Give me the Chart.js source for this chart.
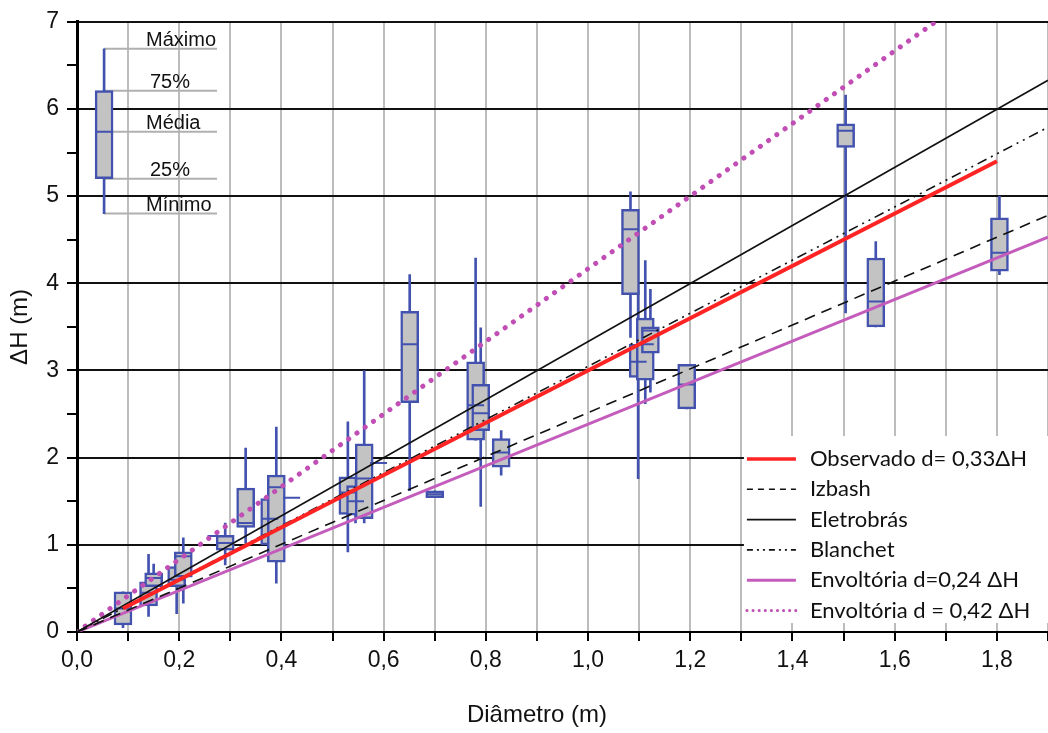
<!DOCTYPE html>
<html>
<head>
<meta charset="utf-8">
<title>ΔH x Diâmetro</title>
<script src="https://cdn.jsdelivr.net/npm/chart.js@4.4.1/dist/chart.umd.min.js"></script>
<style>
  html, body { margin: 0; padding: 0; background: #fff; overflow: hidden; }
  canvas { display: block; }
</style>
</head>
<body>
<canvas id="chart" width="1048" height="733"></canvas>
<script>
// boxes: diameter (m) and ΔH statistics (m)
const boxX   = [0.09, 0.14, 0.15, 0.195, 0.208, 0.29, 0.33, 0.377, 0.39, 0.53, 0.545, 0.562, 0.651, 0.70, 0.78, 0.79, 0.83, 1.083, 1.098, 1.112, 1.122, 1.193, 1.504, 1.563, 1.805];
const boxMin = [0.05, 0.18, 0.45, 0.21, 0.33, 0.77, 1.02, 0.95, 0.56, 0.92, 1.25, 1.25, 1.62, 1.54, 2.20, 1.44, 1.80, 3.38, 1.76, 2.62, 2.75, 2.56, 3.66, 3.50, 4.10];
const boxQ1  = [0.08, 0.30, 0.52, 0.52, 0.63, 0.94, 1.20, 1.00, 0.80, 1.35, 1.34, 1.30, 2.63, 1.54, 2.20, 2.31, 1.89, 3.87, 2.92, 2.89, 3.20, 2.56, 5.56, 3.50, 4.14];
const boxMed = [0.27, 0.45, 0.62, 0.60, 0.87, 1.02, 1.25, 1.30, 1.66, 1.60, 1.50, 1.76, 3.30, 1.58, 2.60, 2.51, 2.06, 4.62, 3.10, 3.30, 3.46, 2.84, 5.75, 3.79, 4.35];
const boxQ3  = [0.46, 0.575, 0.68, 0.75, 0.92, 1.11, 1.65, 1.53, 1.80, 1.78, 1.68, 2.16, 3.68, 1.62, 3.10, 2.84, 2.22, 4.85, 3.30, 3.60, 3.50, 3.07, 5.83, 4.29, 4.75];
const boxMax = [0.46, 0.89, 0.78, 0.75, 1.08, 1.25, 2.11, 1.53, 2.35, 2.41, 1.68, 3.00, 4.10, 1.62, 4.29, 3.49, 2.31, 5.05, 3.92, 4.26, 3.93, 3.07, 6.16, 4.48, 5.00];

// single-value groups (flat boxes)
const flatX = [0.272, 0.42, 0.59];
const flatY = [1.10, 1.54, 1.94];

// key box in the upper left corner
const keyX = 0.053;
const keyVals = [6.69, 6.21, 5.74, 5.20, 4.80];   // max, q3, mean, q1, min
const keyLabels = ['Máximo', '75%', 'Média', '25%', 'Mínimo'];

// reference lines (start / end points)
const obsX = [0.09, 1.8],  obsY = [0.27, 5.40];
const izbX = [0, 1.9],     izbY = [0, 4.78];
const eleX = [0, 1.9],     eleY = [0, 6.33];
const blaX = [0, 1.9],     blaY = [0, 5.79];
const env24X = [0, 1.9],   env24Y = [0, 4.53];
const env42X = [0, 1.68],  env42Y = [0, 7.0];

const lineLabels = ['Observado d= 0,33\u0394H', 'Izbash', 'Eletrobrás', 'Blanchet',
                    'Envoltória d=0,24 \u0394H', 'Envoltória d = 0,42 \u0394H'];

const BLUE = '#4252ae';
const AXIS_FONT = '"Liberation Sans", Arial, sans-serif';

const pts = (xs, ys) => xs.map((x, i) => ({ x, y: ys[i] }));

const lineSet = (label, xs, ys, color, width, dash, cap) => ({
    type: 'line',
    label,
    data: pts(xs, ys),
    borderColor: color,
    borderWidth: width,
    borderDash: dash || [],
    borderCapStyle: cap || 'butt',
    pointRadius: 0,
    fill: false,
    tension: 0,
    order: 0
});

const allX = [keyX, ...boxX];
const allMin = [keyVals[4], ...boxMin];
const allQ1 = [keyVals[3], ...boxQ1];
const allMed = [keyVals[2], ...boxMed];
const allQ3 = [keyVals[1], ...boxQ3];
const allMax = [keyVals[0], ...boxMax];

const datasets = [
    lineSet(lineLabels[0], obsX, obsY, '#ff2424', 4),
    lineSet(lineLabels[1], izbX, izbY, '#111', 1.6, [11, 7]),
    lineSet(lineLabels[2], eleX, eleY, '#111', 1.6),
    lineSet(lineLabels[3], blaX, blaY, '#111', 1.6, [10, 5, 2, 5, 2, 5]),
    lineSet(lineLabels[4], env24X, env24Y, '#c45cbc', 3),
    lineSet(lineLabels[5], env42X, env42Y, '#c04eb4', 5, [0.1, 10], 'round'),
    {
        type: 'line',
        label: 'median',
        data: [...pts(allX, allMed), ...pts(flatX, flatY)],
        showLine: false,
        pointStyle: 'line',
        pointRadius: 8.5,
        pointBorderWidth: 2,
        pointBorderColor: BLUE,
        borderColor: BLUE,
        order: 1
    },
    {
        type: 'bar',
        label: 'box',
        data: allX.map((x, i) => ({ x, y: [allQ1[i], allQ3[i]] })),
        backgroundColor: '#c3c3c3',
        borderColor: BLUE,
        borderWidth: 2.5,
        borderSkipped: false,
        barThickness: 18,
        grouped: false,
        order: 2
    },
    {
        type: 'bar',
        label: 'whisker',
        data: allX.map((x, i) => ({ x, y: [allMin[i], allMax[i]] })),
        backgroundColor: BLUE,
        borderWidth: 0,
        barThickness: 2,
        grouped: false,
        order: 3
    }
];

// key labels, legend and x title
const overlay = {
    id: 'overlay',
    beforeDatasetsDraw(chart) {
        const { ctx, scales: { x, y } } = chart;
        ctx.save();
        ctx.strokeStyle = '#b0b0b0';
        ctx.lineWidth = 2;
        ctx.fillStyle = '#111';
        ctx.font = '20px ' + AXIS_FONT;
        ctx.textBaseline = 'alphabetic';
        const x0 = x.getPixelForValue(keyX);
        const x1 = x.getPixelForValue(0.274);
        keyLabels.forEach((t, i) => {
            const py = y.getPixelForValue(keyVals[i]);
            ctx.beginPath();
            ctx.moveTo(x0, py);
            ctx.lineTo(x1, py);
            ctx.stroke();
            const tx = x.getPixelForValue(0.135) + (t.endsWith('%') ? 4 : 0);
            ctx.fillText(t, tx, py - 3);
        });
        ctx.restore();
    },
    afterDraw(chart) {
        const { ctx, chartArea, scales: { x } } = chart;
        ctx.save();
        // legend
        const lx = x.getPixelForValue(1.305);
        ctx.fillStyle = '#fff';
        ctx.fillRect(lx, 436, chartArea.right - lx, 187);
        ctx.font = '22px Lato, "Open Sans", sans-serif';
        ctx.textBaseline = 'middle';
        for (let i = 0; i < 6; i++) {
            const ds = chart.data.datasets[i];
            const ly = 459 + i * 30.3;
            ctx.strokeStyle = ds.borderColor;
            ctx.lineWidth = i === 5 ? 3 : Math.min(ds.borderWidth, 3.5);
            ctx.setLineDash(i === 1 ? [6, 5] : i === 3 ? [6, 4, 2, 4, 2, 4] : i === 5 ? [0.1, 6] : []);
            ctx.lineCap = ds.borderCapStyle;
            ctx.beginPath();
            ctx.moveTo(lx + 3, ly);
            ctx.lineTo(lx + 52, ly);
            ctx.stroke();
            ctx.setLineDash([]);
            ctx.fillStyle = '#111';
            ctx.fillText(ds.label, lx + 66, ly);
        }
        // x axis title, centred on the labelled range
        ctx.font = '24px ' + AXIS_FONT;
        ctx.textAlign = 'center';
        ctx.textBaseline = 'middle';
        const cx = (x.getPixelForValue(0) + x.getPixelForValue(1.8)) / 2;
        ctx.fillText('Diâmetro (m)', cx, 715);
        ctx.restore();
    }
};

new Chart(document.getElementById('chart'), {
    type: 'bar',
    data: { datasets },
    plugins: [overlay],
    options: {
        responsive: false,
        animation: false,
        layout: { autoPadding: false, padding: { top: 20, right: 0, left: 0, bottom: 0 } },
        plugins: { legend: { display: false }, tooltip: { enabled: false } },
        scales: {
            x: {
                type: 'linear',
                min: 0,
                max: 1.9,
                offset: false,
                afterFit: s => { s.height = 101; s.paddingRight = 0; },
                grid: { offset: false, color: '#bcbcbc', lineWidth: 2, tickColor: '#000', tickLength: 9 },
                border: { color: '#000', width: 2 },
                ticks: {
                    stepSize: 0.1,
                    autoSkip: false,
                    maxRotation: 0,
                    padding: 6,
                    color: '#111',
                    font: { family: AXIS_FONT, size: 23 },
                    callback: (v, i) => i % 2 === 0 && v < 1.85 ? v.toFixed(1).replace('.', ',') : ''
                }
            },
            y: {
                type: 'linear',
                min: 0,
                max: 7,
                afterFit: s => { s.width = 77; },
                grid: {
                    color: c => Number.isInteger(c.tick.value) ? '#111' : 'rgba(0,0,0,0)',
                    lineWidth: 2,
                    tickColor: '#000',
                    tickLength: 10
                },
                border: { color: '#000', width: 3 },
                title: {
                    display: true,
                    text: '\u0394H (m)',
                    color: '#111',
                    font: { family: AXIS_FONT, size: 24 },
                    padding: { top: 6, bottom: 0 }
                },
                ticks: {
                    stepSize: 0.5,
                    padding: 8,
                    color: '#111',
                    font: { family: AXIS_FONT, size: 23 },
                    callback: v => Number.isInteger(v) ? v : ''
                }
            }
        }
    }
});
</script>
</body>
</html>
